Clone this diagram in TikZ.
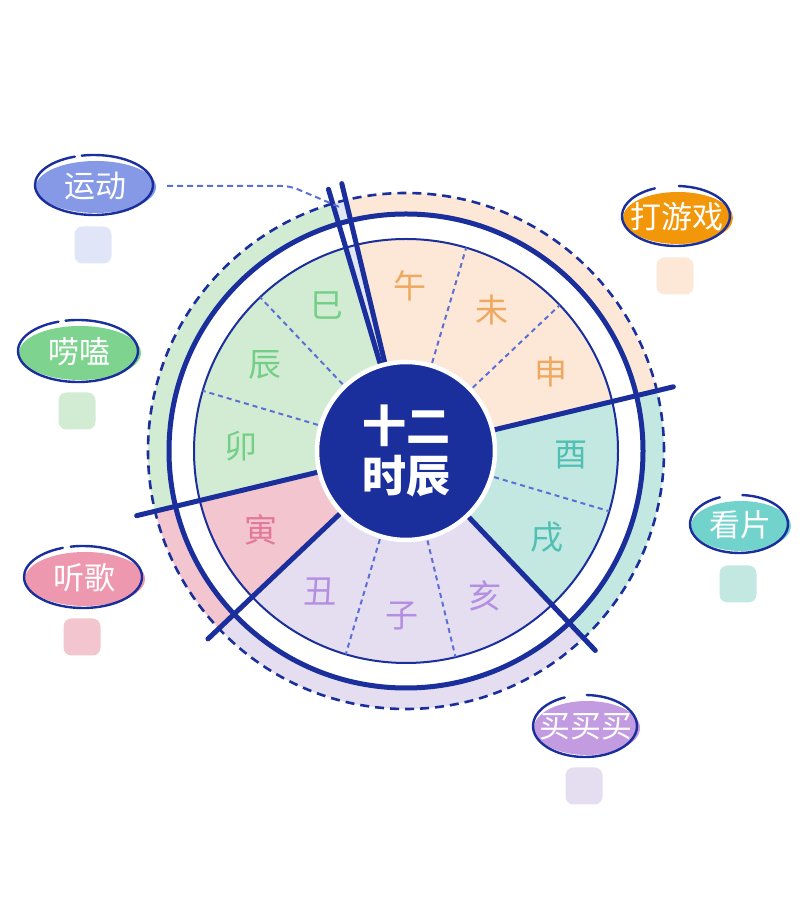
\documentclass[tikz,border=0pt]{standalone}
\usepackage{fontspec}
\newfontfamily\cjk{Noto Sans CJK SC}
\definecolor{navy}{HTML}{1A2E9C}
\definecolor{midblue}{HTML}{5B70D4}
\definecolor{ydC}{HTML}{8599E6}\definecolor{ydL}{HTML}{E0E6F8}
\definecolor{yxC}{HTML}{F2960A}\definecolor{yxL}{HTML}{FDE7D7}
\definecolor{lkC}{HTML}{7ED48F}\definecolor{lkL}{HTML}{D2ECD4}
\definecolor{kpC}{HTML}{72D3CC}\definecolor{kpL}{HTML}{C2E8E1}
\definecolor{tgC}{HTML}{EE98AF}\definecolor{tgL}{HTML}{F3C5CF}
\definecolor{mmC}{HTML}{C39BE0}\definecolor{mmL}{HTML}{E4DEF0}
\definecolor{greenT}{HTML}{74CF86}
\definecolor{peachT}{HTML}{EEA960}
\definecolor{tealT}{HTML}{4FC0B3}
\definecolor{pinkT}{HTML}{E2789A}
\definecolor{purpleT}{HTML}{B48EE0}
\tikzset{
  labeltext/.style={text=white, font=\cjk\fontsize{31pt}{35pt}\selectfont, inner sep=0pt},
  sqbox/.style={rounded corners=8pt, minimum size=37pt, inner sep=0pt},
  outl/.style={navy, line width=2.4pt, line cap=round},
  seg/.style={font=\cjk\fontsize{33pt}{38pt}\selectfont, inner sep=0pt},
  divider/.style={midblue, line width=2pt, dash pattern=on 5pt off 4pt},
  spoke/.style={navy, line width=5pt, line cap=round},
  conn/.style={midblue, line width=2pt, dash pattern=on 6pt off 4pt, rounded corners=8pt},
}
\newcommand\actlabel[8]{%
  \begin{scope}[shift={(#2)}]
    \fill[#5C] (2,-2) ellipse [x radius=#3+1, y radius=#4-4];
    \draw[outl] (#7:#3 and #4) arc[start angle=#7, end angle=#8-360, x radius=#3, y radius=#4];
    \node[labeltext] (#1) at (1,-1) {#6};
    \node[sqbox, fill=#5L] (#1sq) at (-1,-60) {};
  \end{scope}}
\begin{document}
\begin{tikzpicture}[x=1pt, y=1pt]
\useasboundingbox (0,0) rectangle (800,913);
% wheel
\begin{scope}[shift={(406,462)}]
  \fill[yxL] (0,0) -- (13.5:258) arc[start angle=13.5, end angle=103.5, radius=258] -- cycle;
  \fill[ydL] (0,0) -- (103.5:258) arc[start angle=103.5, end angle=106.5, radius=258] -- cycle;
  \fill[lkL] (0,0) -- (106.5:258) arc[start angle=106.5, end angle=193.5, radius=258] -- cycle;
  \fill[tgL] (0,0) -- (193.5:258) arc[start angle=193.5, end angle=223.5, radius=258] -- cycle;
  \fill[mmL] (0,0) -- (223.5:258) arc[start angle=223.5, end angle=313.5, radius=258] -- cycle;
  \fill[kpL] (0,0) -- (313.5:258) arc[start angle=313.5, end angle=373.5, radius=258] -- cycle;
  \fill[white, even odd rule] (0,0) circle (236) (0,0) circle (212);
  \draw[navy, line width=2pt] (0,0) circle (212);
  \draw[navy, line width=5pt] (0,0) circle (237);
  \draw[navy, line width=2.6pt, dash pattern=on 9pt off 6pt] (0,0) circle (258);
  \foreach \a in {43.5,73.5,133.5,163.5,253.5,283.5,343.5}
    \draw[divider] (\a:92) -- (\a:212);
  \foreach \a/\r in {13.5/275,103.5/275,106.5/273,193.5/277,223.5/273,313.5/275}
    \draw[spoke] (\a:86) -- (\a:\r);
  \node[circle, fill=navy, draw=white, line width=4.5pt, minimum size=178pt, inner sep=0pt,
        text=white, align=center, font=\cjk\bfseries\fontsize{44pt}{50pt}\selectfont] (hub) at (0,0) {十二\\时辰};
  \node[seg, text=peachT] (wu) at (88.5:165) {午};
  \node[seg, text=peachT] (wei) at (58.5:165) {未};
  \node[seg, text=peachT] (shen) at (28.5:165) {申};
  \node[seg, text=tealT] (you) at (-1.5:165) {酉};
  \node[seg, text=tealT] (xu) at (-31.5:165) {戌};
  \node[seg, text=purpleT] (hai) at (-61.5:165) {亥};
  \node[seg, text=purpleT] (zi) at (-91.5:165) {子};
  \node[seg, text=purpleT] (chou) at (-121.5:165) {丑};
  \node[seg, text=pinkT] (yin) at (-151.5:165) {寅};
  \node[seg, text=greenT] (mao) at (178.5:165) {卯};
  \node[seg, text=greenT] (chen) at (148.5:165) {辰};
  \node[seg, text=greenT] (si) at (118.5:166) {巳};
  \coordinate (wedgept) at (105:252);
\end{scope}
% labels
\actlabel{yundong}{94,728}{59}{30}{yd}{运动}{102}{109}
\actlabel{youxi}{676,697}{54}{30}{yx}{打游戏}{87}{113}
\actlabel{laoke}{78,562}{60}{31}{lk}{唠嗑}{102}{109}
\actlabel{tingge}{83,336}{59}{31}{tg}{听歌}{102}{110}
\actlabel{kanpian}{739,389}{49}{29}{kp}{看片}{86}{113}
\actlabel{maimai}{585,187}{52}{31}{mm}{买买买}{88}{113}
% connector
\coordinate (ydstart) at (167,727);
\draw[conn] (ydstart) -- ++(123,0) -- (wedgept);
\end{tikzpicture}
\end{document}
